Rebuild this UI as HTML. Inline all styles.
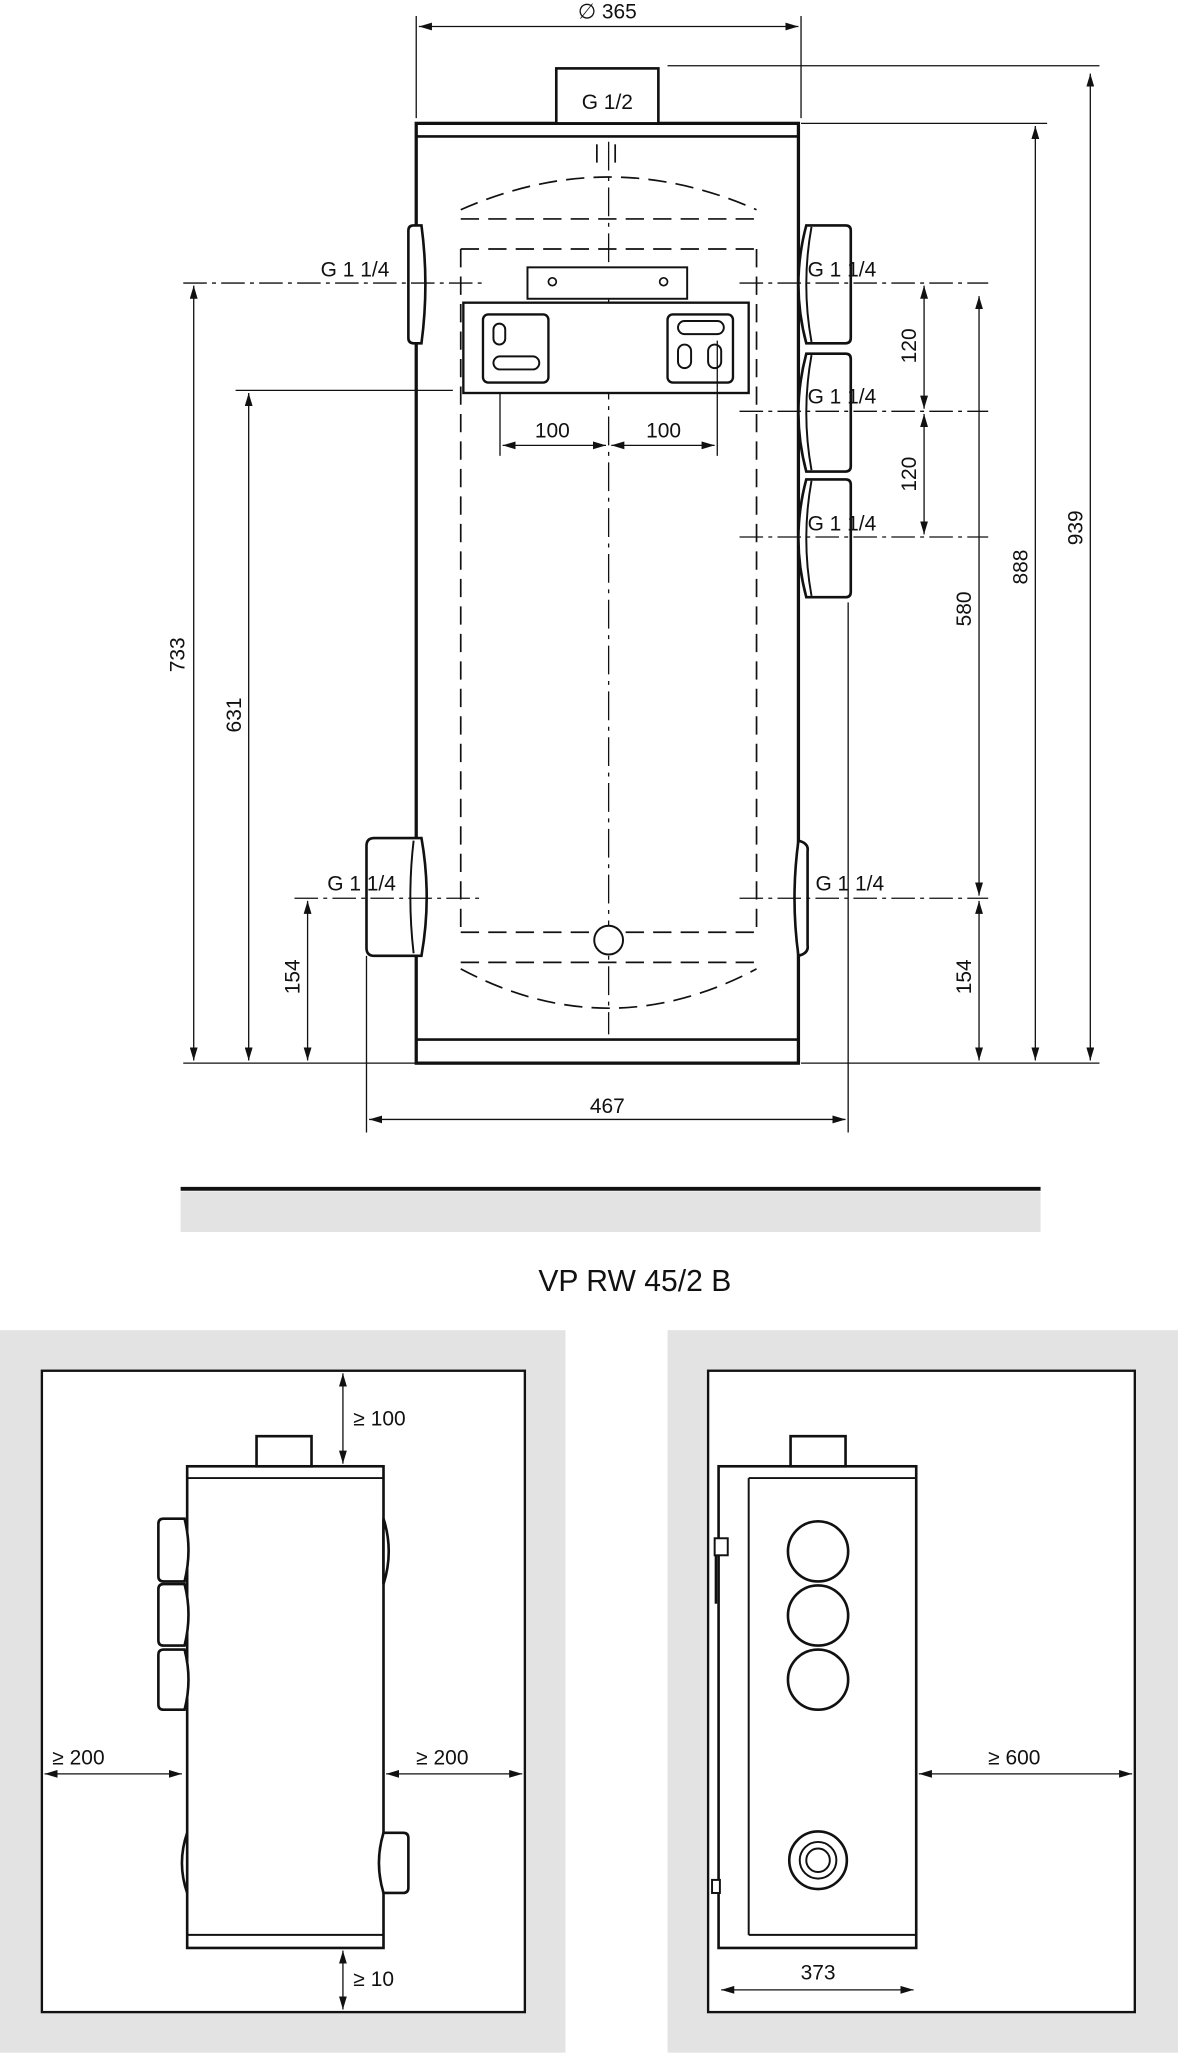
<!DOCTYPE html>
<html><head><meta charset="utf-8"><style>
html,body{margin:0;padding:0;background:#fff}
svg{display:block}
text{font-family:"Liberation Sans",sans-serif;fill:#111}
</style></head><body>
<svg width="1178" height="2053" viewBox="0 0 900 1568" xmlns="http://www.w3.org/2000/svg">
<defs>
<marker id="a" viewBox="0 0 10 6" refX="10" refY="3" markerWidth="10" markerHeight="6" orient="auto-start-reverse" markerUnits="userSpaceOnUse"><path d="M0 0L10 3L0 6z" fill="#111"/></marker>
<g id="fr">
<path d="M9 0H39Q43 0 43 4V86Q43 90 39 90H9Q-3 45 9 0Z" fill="#fff" stroke="#111" stroke-width="2"/>
<path d="M13 1Q5 45 13 89" fill="none" stroke="#111" stroke-width="1.5"/>
</g>
</defs>
<g stroke="#111" fill="none">
<!-- top dims -->
<line x1="318" y1="12" x2="318" y2="90" stroke-width="1"/>
<line x1="612" y1="12" x2="612" y2="90" stroke-width="1"/>
<line x1="320" y1="20" x2="610" y2="20" stroke-width="1" marker-start="url(#a)" marker-end="url(#a)"/>
<!-- tank -->
<rect x="318" y="94" width="292" height="718" stroke-width="2.5"/>
<line x1="318" y1="104" x2="610" y2="104" stroke-width="2"/>
<line x1="318" y1="794" x2="610" y2="794" stroke-width="2"/>
<rect x="425" y="52" width="78" height="42" stroke-width="2" fill="#fff"/>
<!-- inner dashed -->
<g stroke-width="1.3" stroke-dasharray="14 7">
<path d="M352 160Q465 110 578 160"/>
<line x1="352" y1="167" x2="578" y2="167"/>
<line x1="352" y1="190" x2="578" y2="190"/>
<line x1="352" y1="190" x2="352" y2="712"/>
<line x1="578" y1="190" x2="578" y2="712"/>
<line x1="352" y1="712" x2="578" y2="712"/>
<line x1="352" y1="735" x2="578" y2="735"/>
<path d="M352 740Q465 800 578 740"/>
<line x1="456" y1="110" x2="456" y2="130"/>
<line x1="470" y1="110" x2="470" y2="130"/>
</g>
<line x1="465" y1="108" x2="465" y2="790" stroke-width="1" stroke-dasharray="22 5 3 5"/>
<circle cx="465" cy="718" r="11" stroke-width="1.5" fill="#fff"/>
<!-- bracket/panel -->
<rect x="403" y="204" width="122" height="24" stroke-width="1.5" fill="#fff"/>
<circle cx="422" cy="215" r="3" stroke-width="1.3"/><circle cx="507" cy="215" r="3" stroke-width="1.3"/>
<rect x="354" y="231" width="218" height="69" stroke-width="1.8" fill="#fff"/>
<rect x="369" y="240" width="50" height="52" rx="4" stroke-width="1.8"/>
<rect x="510" y="240" width="50" height="52" rx="4" stroke-width="1.8"/>
<rect x="377" y="247" width="9" height="16" rx="4.5" stroke-width="1.5"/>
<rect x="377" y="272" width="35" height="10" rx="5" stroke-width="1.5"/>
<rect x="518" y="245" width="35" height="10" rx="5" stroke-width="1.5"/>
<rect x="518" y="263" width="10" height="18" rx="5" stroke-width="1.5"/>
<rect x="541" y="263" width="10" height="18" rx="5" stroke-width="1.5"/>
<!-- fittings -->
<use href="#fr" x="607" y="172"/>
<use href="#fr" x="607" y="270"/>
<use href="#fr" x="607" y="366"/>
<path d="M312 176Q312 172 316 172H322Q328 217 322 262H316Q312 262 312 258Z" fill="#fff" stroke-width="2"/>
<path d="M322 640H286Q280 640 280 646V724Q280 730 286 730H322Q330 685 322 640Z" fill="#fff" stroke-width="2"/>
<path d="M316 642Q311 685 316 728" stroke-width="1.5"/>
<path d="M610 642Q618 644 617 650V722Q618 728 610 730Q604 686 610 642Z" fill="#fff" stroke-width="2"/>
<!-- centerlines of fittings -->
<g stroke-width="1" stroke-dasharray="18 4 3 4">
<line x1="565" y1="216" x2="755" y2="216"/>
<line x1="565" y1="314" x2="755" y2="314"/>
<line x1="565" y1="410" x2="755" y2="410"/>
<line x1="565" y1="686" x2="755" y2="686"/>
<line x1="140" y1="216" x2="368" y2="216"/>
<line x1="225" y1="686" x2="368" y2="686"/>
</g>
<!-- ext lines -->
<g stroke-width="1">
<line x1="510" y1="50" x2="840" y2="50"/>
<line x1="612" y1="94" x2="800" y2="94"/>
<line x1="612" y1="812" x2="840" y2="812"/>
<line x1="140" y1="812" x2="318" y2="812"/>
<line x1="180" y1="298" x2="346" y2="298"/>
<line x1="280" y1="730" x2="280" y2="865"/>
<line x1="648" y1="460" x2="648" y2="865"/>
<line x1="382" y1="300" x2="382" y2="348"/>
<line x1="548" y1="260" x2="548" y2="348"/>
</g>
<g stroke-width="1" marker-start="url(#a)" marker-end="url(#a)">
<line x1="833" y1="56" x2="833" y2="810"/>
<line x1="791" y1="96" x2="791" y2="810"/>
<line x1="748" y1="226" x2="748" y2="684"/>
<line x1="748" y1="688" x2="748" y2="810"/>
<line x1="706" y1="218" x2="706" y2="312"/>
<line x1="706" y1="316" x2="706" y2="408"/>
<line x1="148" y1="218" x2="148" y2="810"/>
<line x1="190" y1="300" x2="190" y2="810"/>
<line x1="235" y1="688" x2="235" y2="810"/>
<line x1="282" y1="855" x2="646" y2="855"/>
<line x1="384" y1="340" x2="463" y2="340"/>
<line x1="467" y1="340" x2="546" y2="340"/>
</g>
<!-- bar -->
<line x1="138" y1="908" x2="795" y2="908" stroke-width="3"/>
</g>
<rect x="138" y="910" width="657" height="31" fill="#e3e3e3"/>
<g font-size="16">
<text x="464" y="14" text-anchor="middle">∅ 365</text>
<text x="464" y="83" text-anchor="middle">G 1/2</text>
<text x="245" y="211">G 1 1/4</text>
<text x="617" y="211">G 1 1/4</text>
<text x="617" y="308">G 1 1/4</text>
<text x="617" y="405">G 1 1/4</text>
<text x="250" y="680">G 1 1/4</text>
<text x="623" y="680">G 1 1/4</text>
<text x="422" y="334" text-anchor="middle">100</text>
<text x="507" y="334" text-anchor="middle">100</text>
<text x="464" y="850" text-anchor="middle">467</text>
<text transform="translate(141 500) rotate(-90)" text-anchor="middle">733</text>
<text transform="translate(184 546) rotate(-90)" text-anchor="middle">631</text>
<text transform="translate(229 746) rotate(-90)" text-anchor="middle">154</text>
<text transform="translate(742 746) rotate(-90)" text-anchor="middle">154</text>
<text transform="translate(742 465) rotate(-90)" text-anchor="middle">580</text>
<text transform="translate(785 433) rotate(-90)" text-anchor="middle">888</text>
<text transform="translate(827 403) rotate(-90)" text-anchor="middle">939</text>
<text transform="translate(700 264) rotate(-90)" text-anchor="middle">120</text>
<text transform="translate(700 362) rotate(-90)" text-anchor="middle">120</text>
</g>
<text x="485" y="986" text-anchor="middle" font-size="23">VP RW 45/2 B</text>
<!-- bottom panels -->
<rect x="0" y="1016" width="432" height="552" fill="#e3e3e3"/>
<rect x="510" y="1016" width="390" height="552" fill="#e3e3e3"/>
<g stroke="#111" fill="#fff">
<rect x="32" y="1047" width="369" height="490" stroke-width="1.8"/>
<rect x="541" y="1047" width="326" height="490" stroke-width="1.8"/>
<!-- left tank -->
<rect x="143" y="1120" width="150" height="368" stroke-width="2"/>
<line x1="143" y1="1129" x2="293" y2="1129" stroke-width="1.5"/>
<line x1="143" y1="1478" x2="293" y2="1478" stroke-width="1.5"/>
<rect x="196" y="1097" width="42" height="23" stroke-width="2"/>
<path d="M141 1160H125Q121 1160 121 1164V1204Q121 1208 125 1208H141Q147 1184 141 1160Z" stroke-width="2"/>
<path d="M141 1210H125Q121 1210 121 1214V1253Q121 1257 125 1257H141Q147 1233 141 1210Z" stroke-width="2"/>
<path d="M141 1260H125Q121 1260 121 1264V1302Q121 1306 125 1306H141Q147 1283 141 1260Z" stroke-width="2"/>
<path d="M143 1400Q135 1423 143 1446Z" stroke-width="2"/>
<path d="M293 1160Q301 1185 293 1210Z" stroke-width="2"/>
<path d="M293 1400H308Q312 1400 312 1404V1442Q312 1446 308 1446H293Q286 1423 293 1400Z" stroke-width="2"/>
<!-- right tank -->
<rect x="549" y="1120" width="151" height="368" stroke-width="2"/>
<line x1="572" y1="1129" x2="700" y2="1129" stroke-width="1.5"/>
<line x1="572" y1="1478" x2="700" y2="1478" stroke-width="1.5"/>
<line x1="572" y1="1129" x2="572" y2="1478" stroke-width="1.5"/>
<rect x="604" y="1097" width="42" height="23" stroke-width="2"/>
<rect x="546" y="1175" width="10" height="13" stroke-width="1.5"/>
<line x1="547" y1="1188" x2="547" y2="1225" stroke-width="2"/>
<rect x="544" y="1436" width="6" height="10" stroke-width="1.5"/>
<circle cx="625" cy="1185" r="23" stroke-width="2"/>
<circle cx="625" cy="1234" r="23" stroke-width="2"/>
<circle cx="625" cy="1283" r="23" stroke-width="2"/>
<circle cx="625" cy="1421" r="22" stroke-width="2"/>
<circle cx="625" cy="1421" r="14" stroke-width="1.5"/>
<circle cx="625" cy="1421" r="9" stroke-width="1.5"/>
</g>
<g stroke="#111" stroke-width="1" marker-start="url(#a)" marker-end="url(#a)">
<line x1="262" y1="1049" x2="262" y2="1118"/>
<line x1="262" y1="1490" x2="262" y2="1535"/>
<line x1="34" y1="1355" x2="139" y2="1355"/>
<line x1="295" y1="1355" x2="399" y2="1355"/>
<line x1="702" y1="1355" x2="865" y2="1355"/>
<line x1="551" y1="1520" x2="698" y2="1520"/>
</g>
<g font-size="16">
<text x="270" y="1089">≥ 100</text>
<text x="270" y="1517">≥ 10</text>
<text x="40" y="1348">≥ 200</text>
<text x="318" y="1348">≥ 200</text>
<text x="755" y="1348">≥ 600</text>
<text x="625" y="1512" text-anchor="middle">373</text>
</g>
</svg>
</body></html>
